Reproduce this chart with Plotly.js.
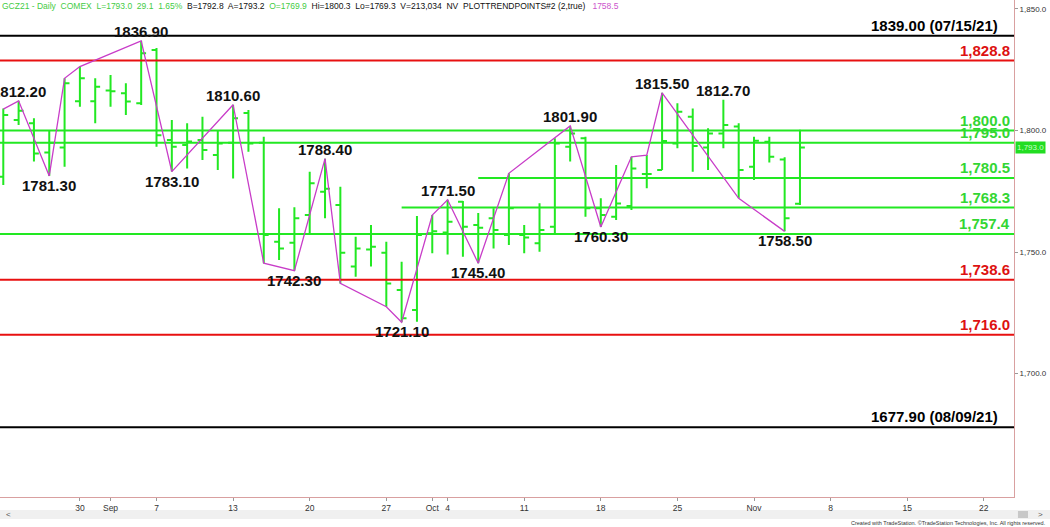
<!DOCTYPE html>
<html>
<head>
<meta charset="utf-8">
<script src="https://cdn.plot.ly/plotly-3.0.1.min.js"></script>
<style>html,body{margin:0;padding:0;background:#fff;}#chart{width:1050px;height:527px;}</style>
</head>
<body>
<div id="chart"></div>
<script>
// ---- Data (GCZ21 daily bars, Aug 23 – Nov 4, 2021) ----
const dates = ['08/23','08/24','08/25','08/26','08/27','08/30','08/31','09/01','09/02','09/03',
  '09/07','09/08','09/09','09/10','09/13','09/14','09/15','09/16','09/17','09/20',
  '09/21','09/22','09/23','09/24','09/27','09/28','09/29','09/30','10/01','10/04',
  '10/05','10/06','10/07','10/08','10/11','10/12','10/13','10/14','10/15','10/18',
  '10/19','10/20','10/21','10/22','10/25','10/26','10/27','10/28','10/29','11/01',
  '11/02','11/03','11/04'];
const opens  = [1781.0,1804.3,1803.0,1791.0,1793.0,1812.0,1812.0,1816.5,1815.3,1811.2,
  1833.1,1796.1,1794.0,1796.1,1789.9,1795.0,1807.2,1795.0,1754.2,1753.8,
  1765.2,1774.8,1769.3,1744.0,1751.0,1749.7,1734.4,1726.1,1757.7,1758.0,
  1770.7,1761.1,1763.9,1757.0,1757.0,1753.6,1760.4,1793.3,1796.8,1768.0,
  1764.5,1768.9,1782.1,1783.7,1794.7,1805.7,1793.0,1798.8,1801.6,1785.1,
  1795.4,1788.1,1769.9];
const highs  = [1809.1,1812.2,1805.0,1800.2,1821.5,1826.3,1821.5,1822.8,1819.4,1836.9,
  1834.0,1804.3,1803.0,1805.7,1800.2,1810.6,1808.4,1797.4,1768.0,1768.4,
  1783.0,1788.4,1776.9,1756.3,1761.1,1754.2,1746.0,1764.8,1765.2,1771.5,
  1771.0,1766.1,1768.0,1782.4,1761.1,1770.1,1796.8,1801.9,1797.4,1772.1,
  1785.8,1789.2,1789.9,1815.5,1811.2,1809.1,1800.9,1812.7,1803.0,1797.4,
  1797.4,1789.0,1800.3];
const lows   = [1777.6,1802.3,1787.2,1781.3,1785.1,1809.8,1803.0,1809.8,1806.4,1810.5,
  1793.3,1783.1,1784.4,1787.9,1783.7,1780.3,1791.3,1745.4,1746.7,1742.3,
  1757.7,1763.9,1737.1,1739.8,1744.0,1727.5,1721.1,1721.3,1749.5,1749.0,
  1748.1,1745.4,1751.5,1752.9,1749.5,1750.1,1757.7,1787.2,1764.5,1760.3,
  1763.2,1767.3,1776.2,1783.7,1792.7,1783.0,1783.7,1792.7,1772.1,1779.6,
  1786.8,1758.5,1769.3];
const closes = [1806.4,1808.1,1790.5,1795.0,1819.4,1821.5,1818.0,1816.2,1811.9,1831.8,
  1798.1,1793.3,1795.5,1792.0,1794.7,1805.0,1794.7,1757.0,1751.5,1763.9,
  1778.3,1776.0,1749.7,1751.5,1752.2,1737.1,1722.7,1757.0,1758.5,1762.5,
  1760.4,1760.0,1759.1,1768.0,1756.0,1759.1,1794.7,1798.8,1768.0,1765.2,
  1770.0,1784.4,1782.1,1795.7,1807.7,1793.6,1798.8,1802.3,1783.7,1795.8,
  1789.2,1763.9,1793.0];

// Trend-point line (bar index, price)
const trendIdx = [0,1,3,4,5,9,11,15,17,19,21,22,25,26,28,29,31,33,37,39,41,42,43,48,51];
const trendVal = [1808.8,1812.2,1781.3,1821.5,1826.3,1836.9,1783.1,1810.6,1745.4,1742.3,1788.4,1737.1,
  1727.5,1721.1,1765.2,1771.5,1745.4,1782.4,1801.9,1760.3,1789.2,1789.9,1815.5,1772.1,1758.5];

// Pivot labels
const pivotIdx   = [1,3,9,11,15,19,21,26,29,31,37,39,43,47,51];
const pivotVal   = [1812.2,1781.3,1836.9,1783.1,1810.6,1742.3,1788.4,1721.1,1771.5,1745.4,1801.9,1760.3,1815.5,1812.7,1758.5];
const pivotText  = ['1812.20','1781.30','1836.90','1783.10','1810.60','1742.30','1788.40','1721.10','1771.50','1745.40','1801.90','1760.30','1815.50','1812.70','1758.50'];
const pivotKind  = ['H','L','H','L','H','L','H','L','H','L','H','L','H','H','L'];

// Horizontal levels
const levelVals  = [1839.0,1828.8,1800.0,1795.0,1780.5,1768.3,1757.4,1738.6,1716.0,1677.9];
const levelText  = ['1839.00 (07/15/21)','1,828.8','1,800.0','1,795.0','1,780.5','1,768.3','1,757.4','1,738.6','1,716.0','1677.90 (08/09/21)'];
const levelStart = [null,null,null,null,31,26,null,null,null,null];
const levelKind  = ['black','red','green','green','green','green','green','red','red','black'];

// X tick labels (trading-day index)
const tickIdx  = [5,7,10,15,20,25,28,29,34,39,44,49,54,59,64];
const tickText = ['30','Sep','7','13','20','27','Oct','4','11','18','25','Nov','8','15','22'];

// y ticks
const yTicks = [1700,1750,1800,1850];

// ---- Styles ----
const xmin = -0.215, xmax = 65.97;
const GREEN = '#22e822', RED = '#e81010', BLACK = '#000000', MAG = '#c83cc8';
const colorOf = {black: BLACK, red: RED, green: GREEN};
const labelColorOf = {black: '#000000', red: '#dd1111', green: '#33d633'};
const FONT = 'Liberation Sans, Arial, sans-serif';

const xIdx = dates.map((d, i) => i);
const traces = [];

levelVals.forEach((v, i) => {
  traces.push({
    type: 'scatter', mode: 'lines',
    x: [levelStart[i] === null ? xmin : levelStart[i], xmax], y: [v, v],
    line: {color: colorOf[levelKind[i]], width: 2},
    hoverinfo: 'skip', showlegend: false
  });
});

traces.push({
  type: 'ohlc', x: xIdx, open: opens, high: highs, low: lows, close: closes,
  increasing: {line: {color: GREEN, width: 2}},
  decreasing: {line: {color: GREEN, width: 2}},
  tickwidth: 0.32, hoverinfo: 'skip', showlegend: false
});

traces.push({
  type: 'scatter', mode: 'lines', x: trendIdx, y: trendVal,
  line: {color: MAG, width: 1.3}, hoverinfo: 'skip', showlegend: false
});

const annotations = [];
pivotIdx.forEach((xi, i) => {
  const hi = pivotKind[i] === 'H';
  annotations.push({
    x: xi, y: pivotVal[i], xref: 'x', yref: 'y', text: pivotText[i], showarrow: false,
    xanchor: 'center', yanchor: hi ? 'bottom' : 'top', yshift: hi ? -1 : 1,
    font: {family: FONT, size: 15, color: '#111', weight: 'bold'}
  });
});
levelVals.forEach((v, i) => {
  const blk = levelKind[i] === 'black';
  annotations.push({
    x: 1, xref: 'paper', y: v, yref: 'y', text: levelText[i], showarrow: false,
    xanchor: 'right', yanchor: 'bottom', xshift: blk ? -14 : -2, yshift: 0,
    font: {family: FONT, size: 15, color: labelColorOf[levelKind[i]], weight: 'bold'}
  });
});
// current price marker
annotations.push({
  x: 1, xref: 'paper', y: closes[closes.length - 1], yref: 'y', xanchor: 'left', yanchor: 'middle',
  text: '1,793.0', showarrow: false, bgcolor: '#22dd22', borderpad: 1, xshift: 1,
  font: {family: FONT, size: 8, color: '#c8ffc8'}
});
// header
annotations.push({
  x: 0, xref: 'paper', y: 1, yref: 'paper', xanchor: 'left', yanchor: 'top', showarrow: false, yshift: 1,
  text: '<span style="color:#44cc44">GCZ21 - Daily&nbsp; COMEX&nbsp; L=1793.0&nbsp; 29.1&nbsp; 1.65%</span>&nbsp; B=1792.8&nbsp; A=1793.2&nbsp; <span style="color:#44cc44">O=1769.9</span>&nbsp; Hi=1800.3&nbsp; Lo=1769.3&nbsp; V=213,034&nbsp; NV&nbsp; PLOTTRENDPOINTS#2 (2,true)&nbsp;&nbsp; <span style="color:#cc55cc">1758.5</span>',
  font: {family: FONT, size: 8.5, color: '#111'}
});
// scrollbar arrows + footer
annotations.push({x: 0.004, xref: 'paper', y: -0.036, yref: 'paper', text: '&lt;', showarrow: false,
  xanchor: 'left', yanchor: 'middle', font: {family: FONT, size: 8, color: '#555'}});
annotations.push({x: 1.031, xref: 'paper', y: -0.036, yref: 'paper', text: '&gt;', showarrow: false,
  xanchor: 'right', yanchor: 'middle', font: {family: FONT, size: 8, color: '#555'}});
annotations.push({x: 1.0335, xref: 'paper', y: -0.0525, yref: 'paper', text: 'Created with TradeStation. ©TradeStation Technologies, Inc. All rights reserved.',
  showarrow: false, xanchor: 'right', yanchor: 'middle', font: {family: FONT, size: 5.5, color: '#333'}});

const shapes = [
  {type: 'rect', xref: 'paper', yref: 'paper', x0: 0, x1: 1.0355, y0: -0.0443, y1: -0.0262,
   fillcolor: '#f0f0f0', line: {width: 0}, layer: 'below'},
  {type: 'rect', xref: 'paper', yref: 'paper', x0: 1.0039, x1: 1.0138, y0: -0.0423, y1: -0.0282,
   fillcolor: '#c8c8c8', line: {width: 0}}
];

const layout = {
  width: 1050, height: 527,
  margin: {l: 0, r: 36, t: 0, b: 30, pad: 0},
  paper_bgcolor: '#ffffff', plot_bgcolor: '#ffffff',
  showlegend: false, dragmode: false,
  font: {family: FONT},
  xaxis: {
    range: [xmin, xmax], rangeslider: {visible: false}, showgrid: false, zeroline: false,
    tickmode: 'array', tickvals: tickIdx, ticktext: tickText,
    ticks: 'outside', ticklen: 3, tickcolor: '#999',
    tickfont: {family: FONT, size: 8.5, color: '#333'},
    showline: true, linecolor: '#d9a0a0', linewidth: 1, fixedrange: true
  },
  yaxis: {
    side: 'right', range: [1649.2, 1853.7], showgrid: false, zeroline: false,
    tickmode: 'array', tickvals: yTicks, tickformat: ',.1f',
    ticks: 'outside', ticklen: 3, tickcolor: '#999',
    tickfont: {family: FONT, size: 8, color: '#333'},
    showline: true, linecolor: '#d9a0a0', linewidth: 1, fixedrange: true
  },
  annotations: annotations,
  shapes: shapes
};

Plotly.newPlot('chart', traces, layout, {displayModeBar: false, staticPlot: true});
</script>
</body>
</html>
